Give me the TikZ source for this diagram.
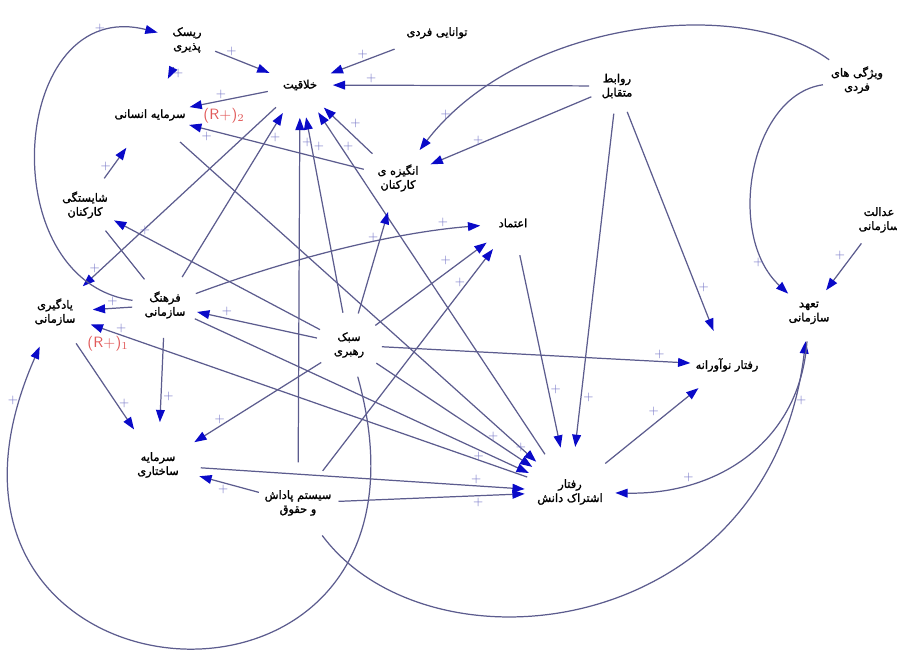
\documentclass[tikz,border=0pt]{standalone}
\usepackage{fontspec}
\newfontfamily\farsi[Script=Arabic,FakeBold=1.6]{DejaVu Sans}
\TeXXeTstate=1
\usetikzlibrary{arrows.meta}
\definecolor{lnkcol}{RGB}{92,92,142}
\definecolor{tipcol}{RGB}{10,10,200}
\definecolor{pluscol}{RGB}{120,120,200}
\definecolor{loopcol}{RGB}{225,90,90}
\newcommand\fa[1]{\beginR#1\endR}

\begin{document}
\begin{tikzpicture}
  [x=0.02cm,y=-0.02cm,
   var/.style={circle,inner sep=2pt,align=center,font=\farsi\fontsize{6.5}{8}\selectfont},
   lnk/.style={draw=lnkcol,line width=0.7pt,-{Triangle[length=7pt,width=5pt,color=tipcol]}},
   plus/.style={text=pluscol,font=\sffamily\fontsize{7}{7}\selectfont,inner sep=1pt},
   loop/.style={text=loopcol,font=\sffamily\fontsize{8.5}{8.5}\selectfont}]
  \useasboundingbox (0,0) rectangle (897,667);

  \node[var,minimum size=1.2cm] (risk) at (187,40) {\fa{ریسک}\\\fa{پذیری}};
  \node[var,minimum size=1.8cm] (ability) at (437,33) {\fa{توانایی فردی}};
  \node[var,minimum size=1.3cm] (creat) at (300,85) {\fa{خلاقیت}};
  \node[var] (human) at (150,115) {\fa{سرمایه انسانی}};
  \node[var,minimum size=1.1cm] (rel) at (617,86) {\fa{روابط}\\\fa{متقابل}};
  \node[var,minimum size=1.1cm] (indiv) at (857,80) {\fa{ویژگی های}\\\fa{فردی}};
  \node[var,minimum size=1.3cm] (comp) at (85,205) {\fa{شایستگی}\\\fa{کارکنان}};
  \node[var,minimum size=1.4cm] (motiv) at (398,178) {\fa{انگیزه ی}\\\fa{کارکنان}};
  \node[var,minimum size=1.3cm] (trust) at (513,223) {\fa{اعتماد}};
  \node[var,minimum size=1.1cm] (justice) at (879,220) {\fa{عدالت}\\\fa{سازمانی}};
  \node[var,minimum size=1.5cm] (learn) at (55,312) {\fa{یادگیری}\\\fa{سازمانی}};
  \node[var,minimum size=1.3cm] (cult) at (165,305) {\fa{فرهنگ}\\\fa{سازمانی}};
  \node[var,minimum size=1.3cm] (lead) at (349,345) {\fa{سبک}\\\fa{رهبری}};
  \node[var,minimum size=1.1cm] (commit) at (809,313) {\fa{تعهد}\\\fa{سازمانی}};
  \node[var] (innov) at (727,365) {\fa{رفتار نوآورانه}};
  \node[var,minimum size=1.7cm] (struct) at (158,465) {\fa{سرمایه}\\\fa{ساختاری}};
  \node[var] (reward) at (298,503) {\fa{سیستم پاداش}\\\fa{و حقوق}};
  \node[var,minimum size=1.8cm] (ks) at (570,492) {\fa{رفتار}\\\fa{اشتراک دانش}};
  \node[loop] (r2) at (224,116) {(R+)$_2$};
  \node[loop] (r1) at (108,344) {(R+)$_1$};

  \path[lnk]
    (risk) edge node[plus,pos=.3,above]{+} (creat)
    (risk) edge node[plus,pos=.5,right]{+} (human)
    (ability) edge node[plus,pos=.5,above]{+} (creat)
    (rel) edge node[plus,pos=.85,above]{+} (creat)
    (creat) edge node[plus,pos=.6,above]{+} (human)
    (motiv) edge node[plus,pos=.9,below]{+} (human)
    (motiv) edge node[plus,pos=.5,above right]{+} (creat)
    (comp) edge node[plus,pos=.4,left]{+} (human)
    (rel) edge node[plus,pos=.75,above right]{+} (motiv)
    (rel) edge node[plus,pos=.85,right]{+} (ks)
    (rel) edge node[plus,pos=.8,right]{+} (innov)
    (justice) edge node[plus,pos=.4,above left]{+} (commit)
    (trust) edge node[plus,pos=.7,right]{+} (ks)
    (ks) edge node[plus,pos=.6,above left]{+} (innov)
    (ks) edge node[plus,pos=.9,right]{+} (creat)
    (ks) edge node[plus,pos=.93,above]{+} (learn)
    (human) edge node[plus,pos=.9,below left]{+} (ks)
    (learn) edge node[plus,pos=.7,right]{+} (struct)
    (creat) edge node[plus,pos=.9,left]{+} (learn)
    (struct) edge node[plus,pos=.85,above]{+} (ks)
    (cult) edge node[plus,pos=.5,above]{+} (learn)
    (cult) edge node[plus,pos=.85,right]{+} (creat)
    (cult) edge node[plus,pos=.7,right]{+} (struct)
    (cult) edge node[plus,pos=.85,below]{+} (ks)
    (lead) edge node[plus,pos=.75,above]{+} (cult)
    (lead) edge node[plus,pos=.85,right]{+} (creat)
    (lead) edge node[plus,pos=.75,left]{+} (motiv)
    (lead) edge node[plus,pos=.7,above left]{+} (trust)
    (lead) edge node[plus,pos=.8,above]{+} (struct)
    (lead) edge node[plus,pos=.9,above]{+} (innov)
    (lead) edge node[plus,pos=.88,above right]{+} (ks)
    (lead) edge node[plus,pos=.85,above]{+} (comp)
    (reward) edge node[plus,pos=.93,right]{+} (creat)
    (reward) edge node[plus,pos=.85,left]{+} (trust)
    (reward) edge node[plus,pos=.6,below]{+} (struct)
    (reward) edge node[plus,pos=.75,below]{+} (ks);

  % loops round the edges
  \draw[lnk] (cult) .. controls (-10,280) and (10,-5) .. (risk) node[plus,pos=.85,above]{+};
  \draw[lnk] (cult) .. controls (300,255) and (400,232) .. (trust) node[plus,pos=.85,above]{+};
  \draw[lnk] (lead) .. controls (465,765) and (-125,720) .. (learn) node[plus,pos=.95,left]{+};
  \draw[lnk] (reward) .. controls (430,680) and (770,640) .. (commit) node[plus,pos=.93,right]{+};
  \draw[lnk] (commit) .. controls (800,440) and (720,495) .. (ks) node[plus,pos=.75,above]{+};
  \draw[lnk] (indiv) .. controls (750,95) and (725,235) .. (commit) node[plus,pos=.85,left]{+};
  \draw[lnk] (indiv) .. controls (740,-5) and (520,20) .. (motiv) node[plus,pos=.9,left]{+};
  \draw[lnk,-] (comp) -- (cult);
\end{tikzpicture}
\end{document}
